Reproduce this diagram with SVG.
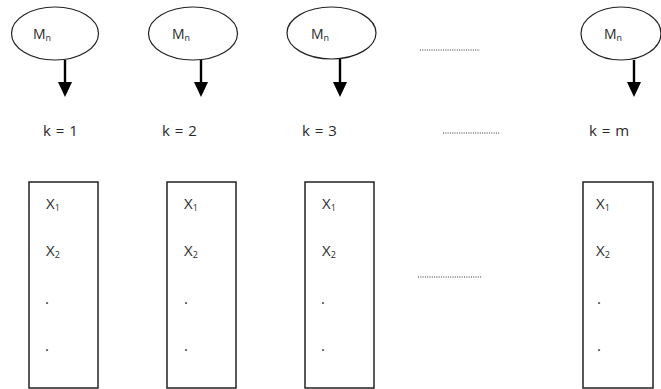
<svg xmlns="http://www.w3.org/2000/svg" width="661" height="389" viewBox="0 0 661 389">
<defs>
<style>
.ell{fill:#fff;stroke:#222;stroke-width:1.2}
.box{fill:#fff;stroke:#222;stroke-width:1.5}
.arr{stroke:#000;stroke-width:2.4;fill:none}
.dot{stroke:#333;stroke-width:1;stroke-dasharray:1 1.3}
text{font-family:"Open Sans","Liberation Sans",sans-serif;fill:#2a2a2a}
.m{font-size:14px}
.k{font-size:15px;word-spacing:1px}
.x{font-size:15px}
.sub{font-size:9px}
</style>
</defs>

<g id="connectors">
<line class="arr" x1="65" y1="60" x2="65" y2="84"/><path d="M58,82 L72,82 L65,97 Z" fill="#000"/>
<line class="arr" x1="201" y1="60" x2="201" y2="84"/><path d="M194,82 L208,82 L201,97 Z" fill="#000"/>
<line class="arr" x1="340" y1="59" x2="340" y2="84"/><path d="M333,82 L347,82 L340,97 Z" fill="#000"/>
<line class="arr" x1="634" y1="60" x2="634" y2="84"/><path d="M627,82 L641,82 L634,97 Z" fill="#000"/>
</g>

<g id="node-m1"><ellipse class="ell" cx="55" cy="33.5" rx="43.5" ry="26.5"/><text class="m" x="33" y="39">M<tspan class="sub" dy="2">n</tspan></text></g>
<g id="node-m2"><ellipse class="ell" cx="193" cy="33.5" rx="44.5" ry="26.5"/><text class="m" x="172" y="39">M<tspan class="sub" dy="2">n</tspan></text></g>
<g id="node-m3"><ellipse class="ell" cx="331.5" cy="33" rx="44.5" ry="26"/><text class="m" x="311" y="39">M<tspan class="sub" dy="2">n</tspan></text></g>
<g id="node-m4"><ellipse class="ell" cx="621" cy="33.5" rx="40" ry="26.5"/><text class="m" x="604" y="39">M<tspan class="sub" dy="2">n</tspan></text></g>

<g id="label-k1"><text class="k" x="43" y="136">k = 1</text></g>
<g id="label-k2"><text class="k" x="162" y="136">k = 2</text></g>
<g id="label-k3"><text class="k" x="302" y="136">k = 3</text></g>
<g id="label-km"><text class="k" x="589" y="136">k = m</text></g>

<g id="ellipsis-1"><line class="dot" x1="420" y1="50" x2="480" y2="50"/></g>
<g id="ellipsis-2"><line class="dot" x1="443" y1="133" x2="500" y2="133"/></g>
<g id="ellipsis-3"><line class="dot" x1="418" y1="277" x2="482" y2="277"/></g>

<g id="node-box1"><rect class="box" x="29" y="182" width="69" height="206"/>
<text class="x" x="46" y="209">X<tspan class="sub" dy="2">1</tspan></text>
<text class="x" x="46" y="256">X<tspan class="sub" dy="2">2</tspan></text>
<text class="x" x="45" y="304">.</text><text class="x" x="45" y="351">.</text></g>
<g id="node-box2"><rect class="box" x="167" y="182" width="69" height="206"/>
<text class="x" x="184" y="209">X<tspan class="sub" dy="2">1</tspan></text>
<text class="x" x="184" y="256">X<tspan class="sub" dy="2">2</tspan></text>
<text class="x" x="184" y="304">.</text><text class="x" x="184" y="351">.</text></g>
<g id="node-box3"><rect class="box" x="305" y="182" width="69" height="206"/>
<text class="x" x="322" y="209">X<tspan class="sub" dy="2">1</tspan></text>
<text class="x" x="322" y="256">X<tspan class="sub" dy="2">2</tspan></text>
<text class="x" x="321" y="304">.</text><text class="x" x="321" y="351">.</text></g>
<g id="node-box4"><rect class="box" x="583" y="182" width="70" height="206"/>
<text class="x" x="596" y="209">X<tspan class="sub" dy="2">1</tspan></text>
<text class="x" x="596" y="256">X<tspan class="sub" dy="2">2</tspan></text>
<text class="x" x="597" y="304">.</text><text class="x" x="597" y="351">.</text></g>
</svg>
